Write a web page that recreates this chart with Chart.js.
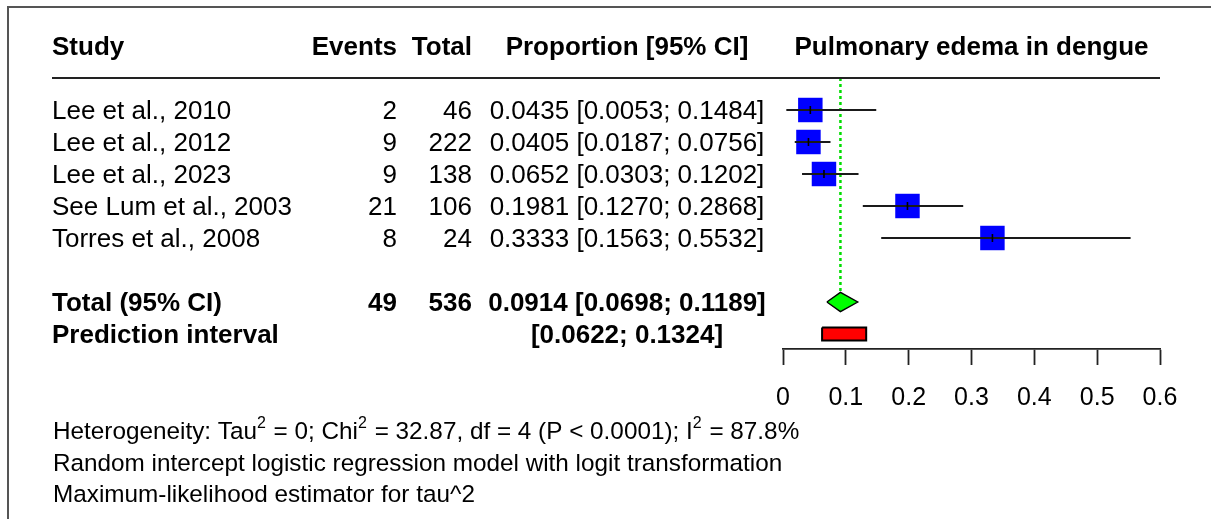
<!DOCTYPE html>
<html lang="en">

<head>
  <meta charset="UTF-8" />
  <title>Pulmonary edema in dengue - forest plot</title>
  <script src="https://cdn.jsdelivr.net/npm/chart.js"></script>
  <style>
    body {
      margin: 0;
      background-color: #ffffff;
    }
    .chart-container {
      position: relative;
      width: 1211px;
      height: 519px;
    }
  </style>
</head>

<body>
  <div class="chart-container">
    <canvas id="forestChart"></canvas>
  </div>

  <script>
    // Study data
    const studies = ["Lee et al., 2010", "Lee et al., 2012", "Lee et al., 2023", "See Lum et al., 2003", "Torres et al., 2008"];
    const events = [2, 9, 9, 21, 8];
    const totals = [46, 222, 138, 106, 24];
    const proportions = [0.0435, 0.0405, 0.0652, 0.1981, 0.3333];
    const ciLower = [0.0053, 0.0187, 0.0303, 0.1270, 0.1563];
    const ciUpper = [0.1484, 0.0756, 0.1202, 0.2868, 0.5532];

    // Pooled result
    const pooledCounts = [49, 536];              // events, total
    const pooledCI = [0.0698, 0.0914, 0.1189];   // lower, estimate, upper
    const predInterval = [0.0622, 0.1324];

    const xTicks = [0, 0.1, 0.2, 0.3, 0.4, 0.5, 0.6];

    const hetParts = [
      ["Heterogeneity: Tau", false], ["2", true], [" = 0; Chi", false], ["2", true],
      [" = 32.87, df = 4 (P < 0.0001); I", false], ["2", true], [" = 87.8%", false]
    ];
    const footLines = [
      "Random intercept logistic regression model with logit transformation",
      "Maximum-likelihood estimator for tau^2"
    ];

    // row positions on the (hidden) y axis
    const TOTAL_ROW = 7;
    const PRED_ROW = 8;
    const DIAMOND_H = 0.3;
    const PRED_H = 0.2;
    const FONT = '"Liberation Sans", Arial, Helvetica, sans-serif';

    const fmt = v => v.toFixed(4);
    const studyPoints = proportions.map((p, i) => ({ x: p, y: i + 1 }));

    const datasets = [];

    // little vertical mark at each estimate (drawn on top)
    datasets.push({
      type: 'scatter',
      label: 'estimate',
      data: studyPoints,
      pointStyle: 'line',
      pointRotation: 90,
      pointRadius: 4,
      pointBorderColor: '#000000',
      pointBorderWidth: 1.6,
      order: 1
    });

    // confidence interval lines
    studies.forEach((s, i) => {
      datasets.push({
        type: 'line',
        label: s,
        data: [{ x: ciLower[i], y: i + 1 }, { x: ciUpper[i], y: i + 1 }],
        borderColor: '#1a1a1a',
        borderWidth: 2,
        pointRadius: 0,
        fill: false,
        order: 2
      });
    });

    // weight squares
    datasets.push({
      type: 'scatter',
      label: 'weights',
      data: studyPoints,
      pointStyle: 'rect',
      pointRadius: 17.3,
      pointBackgroundColor: '#0000ff',
      pointBorderColor: '#0000ff',
      pointBorderWidth: 0,
      order: 3
    });

    // dotted line at pooled estimate
    datasets.push({
      type: 'line',
      label: 'pooled line',
      data: [{ x: pooledCI[1], y: 0 }, { x: pooledCI[1], y: TOTAL_ROW - DIAMOND_H }],
      borderColor: '#00dd00',
      borderWidth: 2.5,
      borderDash: [3, 3],
      pointRadius: 0,
      fill: false,
      order: 4
    });

    // pooled diamond
    datasets.push({
      type: 'line',
      label: 'pooled',
      data: [
        { x: pooledCI[0], y: TOTAL_ROW },
        { x: pooledCI[1], y: TOTAL_ROW - DIAMOND_H },
        { x: pooledCI[2], y: TOTAL_ROW },
        { x: pooledCI[1], y: TOTAL_ROW + DIAMOND_H },
        { x: pooledCI[0], y: TOTAL_ROW }
      ],
      borderColor: '#000000',
      borderWidth: 1.4,
      backgroundColor: '#00ff00',
      fill: 'shape',
      pointRadius: 0,
      order: 0
    });

    // prediction interval bar
    datasets.push({
      type: 'line',
      label: 'prediction',
      data: [
        { x: predInterval[0], y: PRED_ROW - PRED_H },
        { x: predInterval[1], y: PRED_ROW - PRED_H },
        { x: predInterval[1], y: PRED_ROW + PRED_H },
        { x: predInterval[0], y: PRED_ROW + PRED_H },
        { x: predInterval[0], y: PRED_ROW - PRED_H }
      ],
      borderColor: '#000000',
      borderWidth: 2,
      backgroundColor: '#ff0000',
      fill: 'shape',
      pointRadius: 0,
      order: 0
    });

    // table text, header rule, frame, footer
    const forestText = {
      id: 'forestText',
      beforeDraw(chart) {
        const ctx = chart.ctx;
        ctx.save();
        ctx.fillStyle = '#ffffff';
        ctx.fillRect(0, 0, chart.width, chart.height);
        ctx.strokeStyle = '#555555';
        ctx.lineWidth = 2;
        ctx.beginPath();
        ctx.moveTo(8, chart.height);
        ctx.lineTo(8, 7);
        ctx.lineTo(chart.width, 7);
        ctx.stroke();
        ctx.restore();
      },
      afterDraw(chart) {
        const ctx = chart.ctx;
        const xs = chart.scales.x;
        const ys = chart.scales.y;
        const put = (txt, px, py, align, bold, size) => {
          ctx.font = (bold ? 'bold ' : '') + size + 'px ' + FONT;
          ctx.textAlign = align;
          ctx.fillText(txt, px, py);
        };
        ctx.save();
        ctx.fillStyle = '#000000';
        ctx.textBaseline = 'alphabetic';

        // header
        const headY = 55;
        put('Study', 52, headY, 'left', true, 26);
        put('Events', 397, headY, 'right', true, 26);
        put('Total', 472, headY, 'right', true, 26);
        put('Proportion [95% CI]', 627, headY, 'center', true, 26);
        put('Pulmonary edema in dengue', (xs.left + xs.right) / 2, headY, 'center', true, 26);

        // header rule
        ctx.strokeStyle = '#222222';
        ctx.lineWidth = 2;
        ctx.beginPath();
        ctx.moveTo(52, ys.getPixelForValue(0));
        ctx.lineTo(xs.right, ys.getPixelForValue(0));
        ctx.stroke();

        // study rows
        studies.forEach((s, i) => {
          const py = ys.getPixelForValue(i + 1) + 9.3;
          put(s, 52, py, 'left', false, 26);
          put(String(events[i]), 397, py, 'right', false, 26);
          put(String(totals[i]), 472, py, 'right', false, 26);
          put(fmt(proportions[i]) + ' [' + fmt(ciLower[i]) + '; ' + fmt(ciUpper[i]) + ']', 627, py, 'center', false, 26);
        });

        // pooled rows
        const ty = ys.getPixelForValue(TOTAL_ROW) + 9.3;
        put('Total (95% CI)', 52, ty, 'left', true, 26);
        put(String(pooledCounts[0]), 397, ty, 'right', true, 26);
        put(String(pooledCounts[1]), 472, ty, 'right', true, 26);
        put(fmt(pooledCI[1]) + ' [' + fmt(pooledCI[0]) + '; ' + fmt(pooledCI[2]) + ']', 627, ty, 'center', true, 26);

        const py2 = ys.getPixelForValue(PRED_ROW) + 9.3;
        put('Prediction interval', 52, py2, 'left', true, 26);
        put('[' + fmt(predInterval[0]) + '; ' + fmt(predInterval[1]) + ']', 627, py2, 'center', true, 26);

        // footer
        let fx = 53;
        ctx.textAlign = 'left';
        hetParts.forEach(([txt, sup]) => {
          ctx.font = (sup ? 16 : 24.3) + 'px ' + FONT;
          ctx.fillText(txt, fx, sup ? 428 : 439);
          fx += ctx.measureText(txt).width + (sup ? 1 : 0);
        });
        ctx.font = '24.3px ' + FONT;
        footLines.forEach((line, i) => {
          ctx.fillText(line, 53, 471 + i * 31);
        });
        ctx.restore();
      }
    };

    new Chart(document.getElementById('forestChart'), {
      type: 'line',
      data: { datasets: datasets },
      options: {
        responsive: true,
        maintainAspectRatio: false,
        animation: false,
        events: [],
        layout: { padding: { left: 783, right: 51, top: 78, bottom: 0 } },
        plugins: {
          legend: { display: false },
          tooltip: { enabled: false }
        },
        scales: {
          x: {
            type: 'linear',
            position: 'bottom',
            min: 0,
            max: 0.6,
            afterBuildTicks: s => { s.ticks = xTicks.map(v => ({ value: v })); },
            afterFit: s => { s.height = 170; },
            border: { display: true, color: '#222222', width: 1.8 },
            grid: { drawOnChartArea: false, drawTicks: true, tickLength: 16, tickWidth: 1.8, tickColor: '#222222' },
            ticks: {
              color: '#000000',
              font: { family: FONT, size: 25 },
              padding: 18,
              maxRotation: 0,
              autoSkip: false,
              callback: v => String(+v.toFixed(1))
            }
          },
          y: {
            type: 'linear',
            display: false,
            reverse: true,
            min: 0,
            max: 271 / 32
          }
        }
      },
      plugins: [forestText]
    });
  </script>
</body>

</html>
